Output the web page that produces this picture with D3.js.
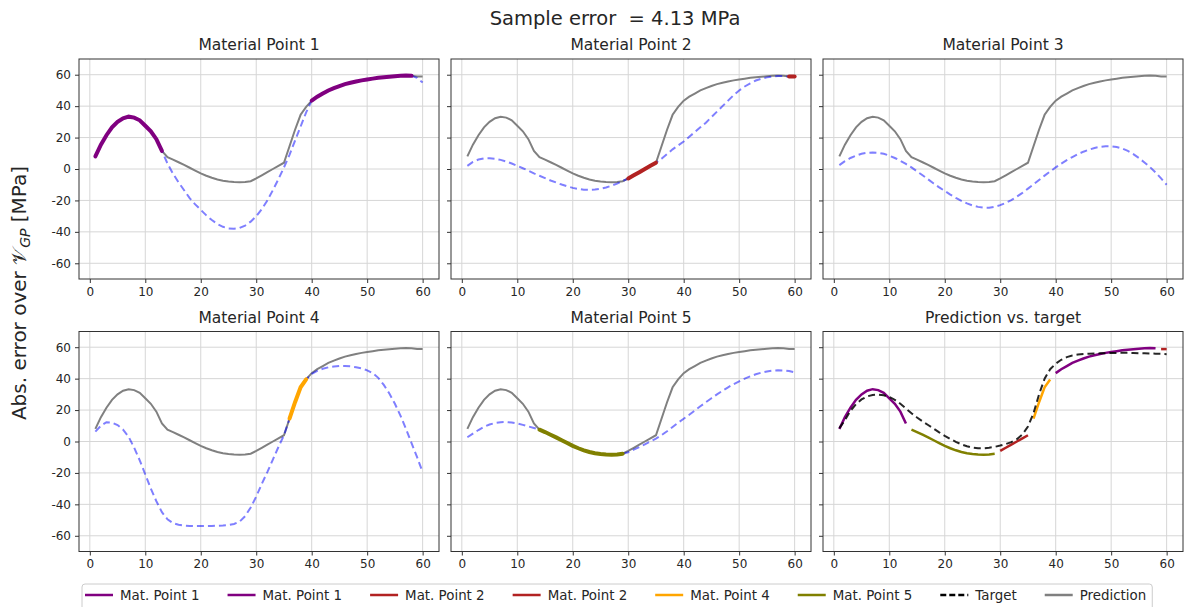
<!DOCTYPE html>
<html>
<head>
<meta charset="utf-8">
<script src="https://cdn.jsdelivr.net/npm/d3@7"></script>
<style>
  body { margin: 0; background: #fff; }
  svg { font-family: "DejaVu Sans", sans-serif; }
</style>
</head>
<body>
<svg id="chart" width="1185" height="607"></svg>
<script>
// load steps 1..60
const steps = d3.range(1, 61);

// GP prediction (composed from the material point segments)
const prediction = [8, 15.5, 21.5, 26.5, 30, 32.3, 33.3, 32.7, 31, 27.5, 24, 19, 11.5,
  7.5, 6, 4.3, 2.6, 0.8, -1, -2.8, -4.3, -5.6, -6.7, -7.5, -8, -8.3, -8.4, -8.2, -7.8,
  -6, -4, -2, 0, 2, 4,
  14.5, 25, 34.5, 39.5,
  43.5, 46, 48, 50, 51.5, 52.8, 54, 54.9, 55.7, 56.4, 57, 57.5, 58, 58.4, 58.7, 59, 59.3, 59.5, 59.3,
  58.8, 58.8];

const target = [8.5, 13.5, 19.5, 23.8, 26.8, 28.7, 29.6, 29.8, 29.4, 28.3,
  26.5, 24, 21, 18, 15.3, 12.8, 10.5, 8.2, 5.8, 3.6,
  1.6, -0.2, -1.8, -3, -3.9, -4.3, -4.3, -4, -3.4, -2.6,
  -1.6, -0.4, 1.5, 4.5, 9.5, 18, 30, 40, 46, 49.5,
  52, 53.7, 54.7, 55.3, 55.7, 55.9, 56, 56.1, 56.2, 56.3,
  56.4, 56.4, 56.4, 56.3, 56.2, 56.1, 56, 55.9, 55.8, 55.6];

// each material point's GP over the whole path
const gp1 = [8, 15.5, 21.5, 26.5, 30, 32.3, 33.3, 32.7, 31, 27.5, 24, 19, 11.5,
  3.5, -3, -8.5, -13.5, -18.5, -22.5, -26, -29.5, -32.5, -35, -36.8, -37.8, -38, -37.5,
  -36, -33.5, -30, -25.5, -20, -13.5, -6.5, 1, 9, 18, 27, 36,
  43.5, 46, 48, 50, 51.5, 52.8, 54, 54.9, 55.7, 56.4, 57, 57.5, 58, 58.4, 58.7, 59, 59.3, 59.5, 59.3,
  58, 55];

const gp2 = [2, 4.5, 6, 6.7, 6.8, 6.5, 5.8, 4.8, 3.5, 2,
  0.5, -1, -2.8, -4.3, -5.8, -7.3, -8.6, -9.9, -11, -12,
  -12.7, -13.2, -13.3, -13.1, -12.6, -11.8, -10.6, -9.3, -7.7,
  -6, -4, -2, 0, 2, 4,
  6.5, 9.5, 12.5, 15, 17.5, 20.5, 23.5, 26.5, 29.5, 33, 36.5, 40, 43.5, 47, 50,
  52.5, 54.5, 56.3, 57.5, 58.3, 58.9, 59.2, 59.2,
  58.8, 58.8];

const gp3 = [2.5, 5, 7, 8.5, 9.7, 10.3, 10.5, 10.3, 9.7, 8.5,
  7, 5.2, 3.2, 1, -1.5, -4, -6.6, -9.2, -11.7, -14,
  -16.3, -18.4, -20.3, -21.9, -23.2, -24.1, -24.6, -24.6, -24, -23,
  -21.6, -19.8, -17.6, -15.2, -12.5, -9.8, -7, -4.2, -1.6, 1,
  3.4, 5.6, 7.6, 9.4, 11, 12.3, 13.4, 14.1, 14.5, 14.5,
  14, 13, 11.5, 9.5, 7, 4.2, 1.2, -2.2, -6, -10];

const gp4 = [6.3, 10, 12.3, 12, 10.5, 7.5, 3, -4, -12, -21,
  -30, -38, -45, -49.5, -52, -53, -53.5, -53.7, -53.8, -53.8,
  -53.8, -53.7, -53.6, -53.4, -53.1, -52.5, -51, -47.5, -42, -35,
  -27, -19.5, -11.5, -3.5, 4, 14.5, 25, 34.5, 39.5, 43,
  45, 46.3, 47.2, 47.7, 48, 48, 47.8, 47.3, 46.5, 45.3,
  43.5, 40.5, 36, 30.5, 24, 16.5, 8, -1, -10, -19.5];

const gp5 = [2.7, 5, 7.3, 9.3, 10.8, 11.8, 12.3, 12.4, 12.1, 11.5,
  10.6, 9.6, 8.6, 7.5, 6, 4.3, 2.6, 0.8, -1, -2.8,
  -4.3, -5.6, -6.7, -7.5, -8, -8.3, -8.4, -8.2, -7.8, -6.8,
  -5.2, -3.6, -1.8, 0, 1.8, 4, 6.5, 9.2, 12, 14.5,
  17, 19.7, 22.4, 25, 27.5, 30, 32.3, 34.5, 36.5, 38.3,
  40, 41.5, 42.8, 43.8, 44.6, 45.1, 45.3, 45.2, 44.8, 44];

// which material point is active on which step range
const segments = [
  { mp: 1, from: 1, to: 13 },
  { mp: 5, from: 14, to: 29 },
  { mp: 2, from: 30, to: 35 },
  { mp: 4, from: 36, to: 39 },
  { mp: 1, from: 40, to: 58 },
  { mp: 2, from: 59, to: 60 }
];

const mpColors = { 1: "#800080", 2: "#b22222", 3: "#1f77b4", 4: "#ffa500", 5: "#808000" };

const xTicks = [0, 10, 20, 30, 40, 50, 60];
const yTicks = [-60, -40, -20, 0, 20, 40, 60];
const sampleError = "4.13";

const panels = [
  { title: "Material Point 1", mp: 1, gp: gp1 },
  { title: "Material Point 2", mp: 2, gp: gp2 },
  { title: "Material Point 3", mp: 3, gp: gp3 },
  { title: "Material Point 4", mp: 4, gp: gp4 },
  { title: "Material Point 5", mp: 5, gp: gp5 },
  { title: "Prediction vs. target", mp: null, gp: null }
];

const legendItems = [
  { label: "Mat. Point 1", color: mpColors[1] },
  { label: "Mat. Point 1", color: mpColors[1] },
  { label: "Mat. Point 2", color: mpColors[2] },
  { label: "Mat. Point 2", color: mpColors[2] },
  { label: "Mat. Point 4", color: mpColors[4] },
  { label: "Mat. Point 5", color: mpColors[5] },
  { label: "Target", color: "#000", dash: "6,3" },
  { label: "Prediction", color: "#808080" }
];

const svg = d3.select("#chart");
const colLeft = [79, 451, 823];
const rowTop = [59, 331.5];
const pw = 360, ph = 220;

const x = d3.scaleLinear().domain([-1.95, 62.95]).range([0, pw]);
const y = d3.scaleLinear().domain([-70, 70]).range([ph, 0]);

const line = d3.line().x((d) => x(d[0])).y((d) => y(d[1]));
const pairs = (arr, from, to) =>
  steps.map((s, i) => [s, arr[i]]).filter((d) => d[0] >= from && d[0] <= to);

panels.forEach(function (p, k) {
  const col = k % 3, row = Math.floor(k / 3);
  const g = svg.append("g").attr("transform", "translate(" + colLeft[col] + "," + rowTop[row] + ")");

  // grid
  g.selectAll(".gx").data(xTicks).enter().append("line")
    .attr("x1", (d) => x(d)).attr("x2", (d) => x(d))
    .attr("y1", 0).attr("y2", ph)
    .attr("stroke", "#d6d6d6").attr("stroke-width", 1);
  g.selectAll(".gy").data(yTicks).enter().append("line")
    .attr("x1", 0).attr("x2", pw)
    .attr("y1", (d) => y(d)).attr("y2", (d) => y(d))
    .attr("stroke", "#d6d6d6").attr("stroke-width", 1);

  // axes
  let xa = g.append("g").attr("transform", "translate(0," + ph + ")")
    .call(d3.axisBottom(x).tickValues(xTicks).tickSize(4).tickPadding(4).tickFormat((d) => String(d)));
  let ya = g.append("g")
    .call(d3.axisLeft(y).tickValues(yTicks).tickSize(4).tickPadding(4)
      .tickFormat(col === 0 ? (d) => String(d) : () => ""));
  [xa, ya].forEach(function (a) {
    a.select(".domain").remove();
    a.selectAll(".tick line").attr("stroke", "#333");
    a.selectAll(".tick text").attr("fill", "#262626").style("font-size", "12px")
      .style("font-family", "DejaVu Sans, sans-serif");
  });

  if (p.gp) {
    g.append("path").attr("d", line(pairs(prediction, 1, 60)))
      .attr("fill", "none").attr("stroke", "#808080").attr("stroke-width", 2);
    g.append("path").attr("d", line(pairs(p.gp, 1, 60)))
      .attr("fill", "none").attr("stroke", "#0000ff").attr("stroke-opacity", 0.5)
      .attr("stroke-width", 2).attr("stroke-dasharray", "7,4");
    segments.filter((s) => s.mp === p.mp).forEach(function (s) {
      g.append("path").attr("d", line(pairs(prediction, s.from, s.to)))
        .attr("fill", "none").attr("stroke", mpColors[s.mp]).attr("stroke-width", 4)
        .attr("stroke-linecap", "round");
    });
  } else {
    segments.forEach(function (s) {
      g.append("path").attr("d", line(pairs(prediction, s.from, s.to)))
        .attr("fill", "none").attr("stroke", mpColors[s.mp]).attr("stroke-width", 2.5);
    });
    g.append("path").attr("d", line(pairs(target, 1, 60)))
      .attr("fill", "none").attr("stroke", "#000").attr("stroke-opacity", 0.85)
      .attr("stroke-width", 2).attr("stroke-dasharray", "7,4");
  }

  g.append("rect").attr("width", pw).attr("height", ph)
    .attr("fill", "none").attr("stroke", "#333").attr("stroke-width", 1);

  g.append("text").attr("x", pw / 2).attr("y", -9)
    .attr("text-anchor", "middle").attr("fill", "#262626")
    .style("font-size", "15.5px").text(p.title);
});

// figure title
svg.append("text").attr("x", 615).attr("y", 25).attr("text-anchor", "middle")
  .attr("fill", "#262626").style("font-size", "19.5px").style("white-space", "pre")
  .text("Sample error  = " + sampleError + " MPa");

// y label
let yl = svg.append("text").attr("transform", "translate(26,293) rotate(-90)")
  .attr("text-anchor", "middle").attr("fill", "#262626").style("font-size", "20px");
yl.append("tspan").text("Abs. error over ");
yl.append("tspan").text("\uD835\uDCB1");
yl.append("tspan").attr("dy", 4).style("font-size", "14px").style("font-style", "italic").text("GP");
yl.append("tspan").attr("dy", -4).text(" [MPa]");

// legend
const lg = svg.append("g");
const box = lg.append("rect").attr("y", 584).attr("height", 30).attr("rx", 3)
  .attr("fill", "#fff").attr("stroke", "#cccccc");
let lx = 85;
legendItems.forEach(function (it) {
  lg.append("line").attr("x1", lx).attr("x2", lx + 28).attr("y1", 595).attr("y2", 595)
    .attr("stroke", it.color).attr("stroke-width", 2.5)
    .attr("stroke-dasharray", it.dash || null);
  let t = lg.append("text").attr("x", lx + 35).attr("y", 600).attr("fill", "#262626")
    .style("font-size", "13.4px").text(it.label);
  lx = lx + 35 + t.node().getComputedTextLength() + 28;
});
box.attr("x", 82).attr("width", lx - 28 + 6 - 82);
</script>
</body>
</html>
